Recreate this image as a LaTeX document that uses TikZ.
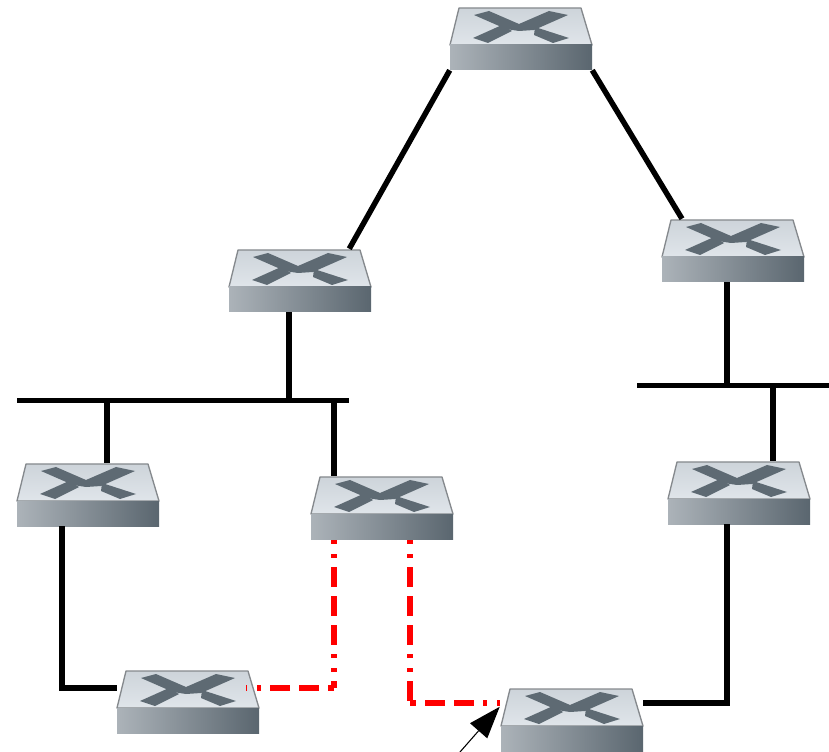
\documentclass[tikz,border=0pt]{standalone}
\usepackage{xcolor}
\usepackage{tikz}
\usetikzlibrary{calc,arrows.meta}
\definecolor{swfacet}{HTML}{CDD4DA}
\definecolor{swfaceb}{HTML}{E0E5EA}
\definecolor{swmark}{HTML}{5E6A73}
\definecolor{swedge}{HTML}{85898D}
\definecolor{swfrontl}{HTML}{ACB3B9}
\definecolor{swfrontm}{HTML}{979FA6}
\definecolor{swfrontr}{HTML}{5A666F}
\tikzset{
	netswitch/.pic={
		\shade[top color=swfacet,bottom color=swfaceb,draw=swedge,line width=1pt,line join=round] (9,1)--(131,1)--(142,38)--(0,38)--cycle;
		\shade[left color=swfrontl,middle color=swfrontm,right color=swfrontr] (0,38) rectangle (142,63);
		\fill[swmark] (24,8)--(39,4)--(69,17)--(99,4)--(118,8)--(84,23)--(69,24)--(56,22)--cycle;
		\fill[swmark] (23,31)--(52,18)--(62,24)--(38,36)--cycle;
		\fill[swmark] (85,20)--(119,31)--(103,36)--(84,28)--cycle;
		\node[minimum width=106.5pt,minimum height=47.25pt,inner sep=0pt] (box) at (71,31.5) {};
	},
	netlink/.style={black,line width=4.1pt},
	redlink/.style={red,line width=4.5pt,
		dash pattern=on 15pt off 6.75pt on 15pt off 6.75pt on 15pt off 6.75pt on 3pt off 7.5pt on 3pt off 6.75pt},
}
\begin{document}
\begin{tikzpicture}[x=.75pt,y=-.75pt]
	\useasboundingbox (0,0) rectangle (829,752);
	% switches
	\pic (top) at (450,7) {netswitch};
	\pic (left) at (229,249) {netswitch};
	\pic (right) at (662,219) {netswitch};
	\pic (lowa) at (17,463) {netswitch};
	\pic (lowb) at (311,476) {netswitch};
	\pic (lowc) at (668,461) {netswitch};
	\pic (edgea) at (117,670) {netswitch};
	\pic (edgeb) at (501,688) {netswitch};
	% shared segments
	\coordinate (busaw) at (17,400.5);
	\coordinate (busae) at (349,400.5);
	\coordinate (busbw) at (637,385.5);
	\coordinate (busbe) at (829,385.5);
	\coordinate (tapa) at (289,400.5);
	\coordinate (tapb) at (107,400.5);
	\coordinate (tapc) at (334,400.5);
	\coordinate (tapd) at (727,385.5);
	\coordinate (tape) at (773,385.5);
	\draw[netlink] (busaw)--(busae);
	\draw[netlink] (busbw)--(busbe);
	% black links
	\draw[netlink] (topbox.south west)--($(leftbox.north east)+(-22,0)$);
	\draw[netlink] (topbox.south east)--($(rightbox.north)+(-51,0)$);
	\draw[netlink] (tapa |- leftbox.south)--(tapa);
	\draw[netlink] (tapb |- lowabox.north)--(tapb);
	\draw[netlink] (tapc |- lowbbox.north)--(tapc);
	\draw[netlink] (tapd |- rightbox.south)--(tapd);
	\draw[netlink] (tape |- lowcbox.north)--(tape);
	\draw[netlink] ($(lowabox.south)+(-26,0)$)|-($(edgeabox.west)+(0,-13.5)$);
	\draw[netlink] ($(lowcbox.south)+(-12,0)$)|-($(edgebbox.east)+(0,-16.5)$);
	% red links
	\coordinate (cornera) at (334,688);
	\coordinate (cornerb) at (410,703);
	\draw[redlink,dash phase=65.25pt] ($(lowbbox.south)+(-48,1)$)--(cornera);
	\draw[redlink,dash phase=10.5pt] (cornera)--($(edgeabox.east)+(-13,-13.5)$);
	\draw[redlink,dash phase=65.25pt] ($(lowbbox.south)+(28,1)$)--(cornerb);
	\draw[redlink,dash phase=10.5pt] (cornerb)--($(edgebbox.west)+(-1,-16.5)$);
	% pointer
	\coordinate (pointer) at (460,752);
	\draw[black,line width=.8pt,-{Triangle[length=24pt,width=17pt]}] (pointer)--($(edgebbox.north west)+(-1,19)$);
\end{tikzpicture}
\end{document}
